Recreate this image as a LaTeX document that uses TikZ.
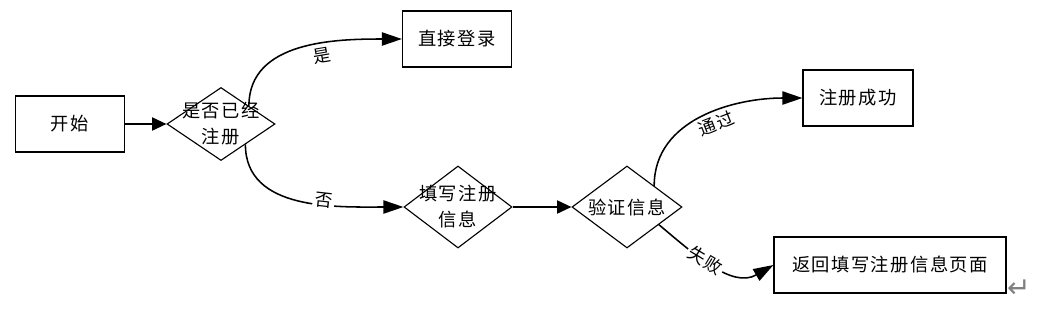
\documentclass[tikz,border=0pt]{standalone}
\usepackage{fontspec}
\setmainfont{Noto Sans CJK SC}[LetterSpace=8]
\newfontfamily\symfont{DejaVu Sans}
\usepackage{tikz}
\usetikzlibrary{positioning, arrows.meta, shapes.geometric}

\tikzset{
  box/.style={draw, rectangle, line width=0.8pt, minimum width=2.725cm, minimum height=1.4cm, font=\fontsize{13}{15}\selectfont},
  choice/.style={draw, diamond, line width=0.8pt, inner sep=0pt},
  ctext/.style={align=center, font=\fontsize{13}{18.5}\selectfont},
  flow/.style={-{Triangle[length=0.5cm, width=0.33cm]}, line width=1.1pt},
  link/.style={-{Triangle[length=0.36cm, width=0.33cm]}, line width=1.1pt},
  tag/.style={font=\fontsize{12.5}{14}\selectfont, sloped, fill=white, inner sep=1.5pt}
}

\begin{document}
\begin{tikzpicture}[x=0.025cm, y=0.025cm]
\useasboundingbox (0,0) rectangle (1041,-311);

% Boxes
\node[box] (start) at (70,-124) {开始};
\node[box] (login) at (457,-39) {直接登录};
\node[box, minimum width=2.75cm] (success) at (858,-98) {注册成功};
\node[box, minimum width=5.8cm] (back) at (890,-265) {返回填写注册信息页面};

% Decisions
\node[choice, minimum width=2.7cm, minimum height=1.825cm,
  label={[ctext]center:是否已经\\注册}] (reg) at (221,-124) {};
\node[choice, minimum width=2.7cm, minimum height=2.05cm,
  label={[ctext]center:填写注册\\信息}] (form) at (458,-207) {};
\node[choice, minimum width=2.75cm, minimum height=2.05cm,
  label={[ctext]center:验证信息}] (verify) at (627,-207) {};

% Flow
\draw[link] (start) -- (reg);
\draw[flow] (reg.33) to[out=90, in=180] node[tag, anchor=north, outer sep=2pt, pos=0.6] {是} (login.west);
\draw[flow] (reg.-40) to[out=-90, in=180] node[tag, anchor=south, yshift=-4pt, pos=0.62] {否} (form.west);
\draw[link] (form) -- (verify);
\draw[flow] (verify.38) to[out=90, in=180] node[tag, anchor=north, outer sep=1pt, pos=0.55] {通过} (success.west);
\draw[flow] (verify.-29) to[out=-40, in=210] node[tag, pos=0.42] {失败} (back.west);

% Paragraph mark
\node[text=gray, font=\symfont\fontsize{20}{20}\selectfont] (mark) at (1019,-289) {↵};
\end{tikzpicture}
\end{document}
